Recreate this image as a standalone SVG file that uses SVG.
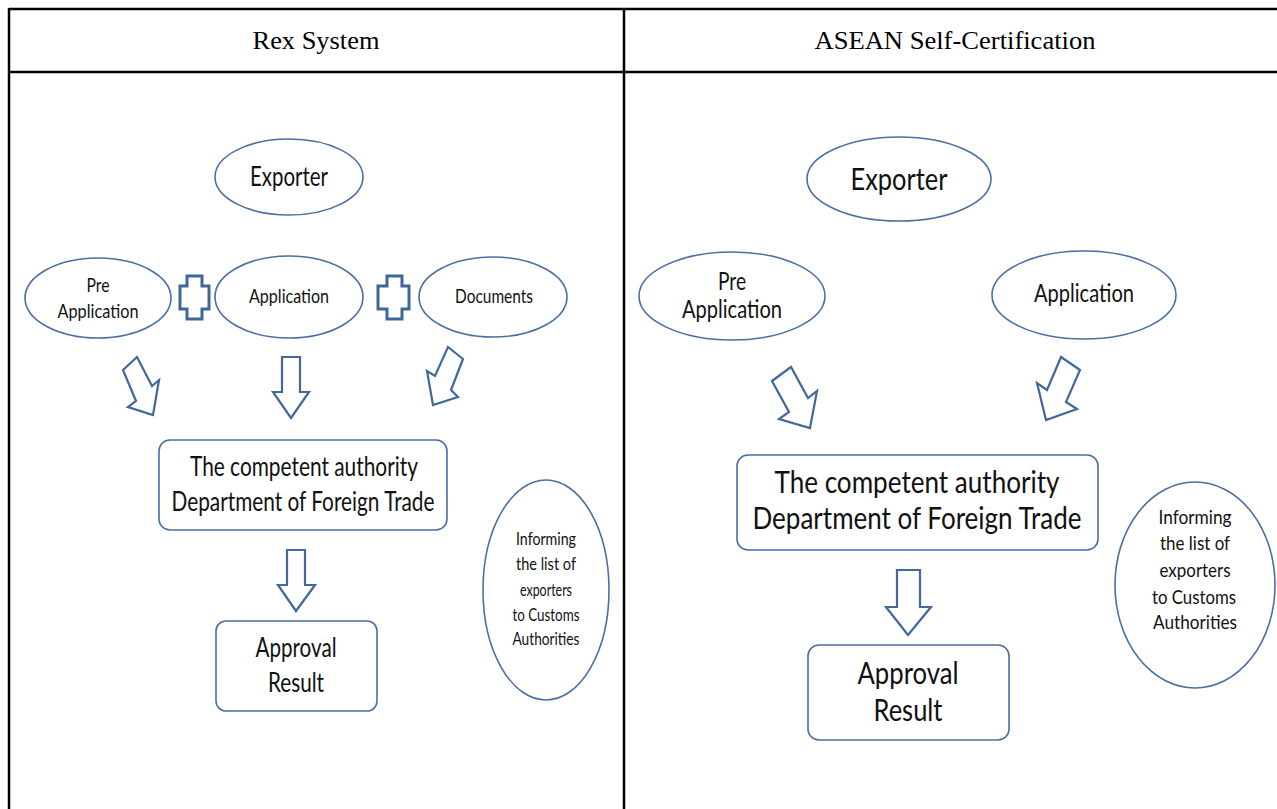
<svg xmlns="http://www.w3.org/2000/svg" width="1277" height="809" viewBox="0 0 1277 809">
<style>
.tbl{stroke:#000;stroke-width:2.5;fill:none}
.hdr{font-family:"Liberation Serif","Times New Roman",serif;font-size:26px;fill:#000;text-anchor:middle}
.node{fill:#fff;stroke:#4a6fa3;stroke-width:1.6}
.arr{fill:#fff;stroke:#42689c;stroke-width:2.2;stroke-linejoin:miter}
.plus{fill:#fff;stroke:#3f6699;stroke-width:3}
.t{font-family:Lato,"Open Sans",sans-serif;fill:#111;text-anchor:middle}
.L1{font-size:27px}.L2{font-size:20px}.L3{font-size:17px}
.R1{font-size:30px}.R2{font-size:25px}.R3{font-size:19px}
</style>
<rect width="1277" height="809" fill="#fff"/>
<g id="table">
<line class="tbl" x1="9" y1="9" x2="1277" y2="9"/>
<line class="tbl" x1="9" y1="72" x2="1277" y2="72"/>
<line class="tbl" x1="9" y1="8" x2="9" y2="809"/>
<line class="tbl" x1="624" y1="8" x2="624" y2="809"/>
<text class="hdr" x="316" y="49" textLength="127" lengthAdjust="spacingAndGlyphs">Rex System</text>
<text class="hdr" x="955" y="49" textLength="281" lengthAdjust="spacingAndGlyphs">ASEAN Self-Certification</text>
</g>
<g id="connectors">
<polygon class="arr" points="123,370 137,357 152,386 159,380 153,415 128,407 136,401"/>
<polygon class="arr" points="282,357 300,357 300,392 309,392 291,418 273,392 282,392"/>
<polygon class="arr" points="448,347 463,359 451,390 458,397 433,405 427,371 435,376"/>
<polygon class="arr" points="287,550 305,550 305,585 315,585 296,611 278,585 287,585"/>
<polygon class="arr" points="772,381 791,367 808,398 817,391 810,428 779,419 789,412"/>
<polygon class="arr" points="1061,357 1080,370 1066,402 1077,409 1046,420 1037,383 1047,390"/>
<polygon class="arr" points="897,570 920,570 920,607 931,607 908,635 886,607 897,607"/>
<polygon class="plus" points="187,276 202,276 202,286 209,286 209,309 202,309 202,319 187,319 187,309 180,309 180,286 187,286"/>
<polygon class="plus" points="387,276 402,276 402,286 409,286 409,309 402,309 402,319 387,319 387,309 378,309 378,286 387,286"/>
</g>
<g id="l-exporter"><ellipse class="node" cx="289" cy="177" rx="74" ry="38"/><text class="t L1" x="289" y="186" textLength="78" lengthAdjust="spacingAndGlyphs">Exporter</text></g>
<g id="l-pre"><ellipse class="node" cx="98" cy="298" rx="73" ry="40"/><text class="t L2" x="98" y="292" textLength="23" lengthAdjust="spacingAndGlyphs">Pre</text><text class="t L2" x="98" y="318" textLength="81" lengthAdjust="spacingAndGlyphs">Application</text></g>
<g id="l-app"><ellipse class="node" cx="289" cy="297" rx="74" ry="41"/><text class="t L2" x="289" y="303" textLength="80" lengthAdjust="spacingAndGlyphs">Application</text></g>
<g id="l-docs"><ellipse class="node" cx="493" cy="297" rx="74" ry="40"/><text class="t L2" x="494" y="303" textLength="78" lengthAdjust="spacingAndGlyphs">Documents</text></g>
<g id="l-authority"><rect class="node" x="159" y="440" width="288" height="90" rx="11"/><text class="t L1" x="304" y="476" textLength="228" lengthAdjust="spacingAndGlyphs">The competent authority</text><text class="t L1" x="303" y="511" textLength="263" lengthAdjust="spacingAndGlyphs">Department of Foreign Trade</text></g>
<g id="l-approval"><rect class="node" x="216" y="621" width="161" height="90" rx="10"/><text class="t L1" x="296" y="657" textLength="81" lengthAdjust="spacingAndGlyphs">Approval</text><text class="t L1" x="296" y="692" textLength="56" lengthAdjust="spacingAndGlyphs">Result</text></g>
<g id="l-inform"><ellipse class="node" cx="546" cy="590" rx="63" ry="110"/>
<text class="t L3" x="546" y="545" textLength="60" lengthAdjust="spacingAndGlyphs">Informing</text>
<text class="t L3" x="546" y="570" textLength="60" lengthAdjust="spacingAndGlyphs">the list of</text>
<text class="t L3" x="546" y="596" textLength="52" lengthAdjust="spacingAndGlyphs">exporters</text>
<text class="t L3" x="546" y="621" textLength="67" lengthAdjust="spacingAndGlyphs">to Customs</text>
<text class="t L3" x="546" y="645" textLength="67" lengthAdjust="spacingAndGlyphs">Authorities</text></g>
<g id="r-exporter"><ellipse class="node" cx="899" cy="179" rx="92" ry="42"/><text class="t R1" x="899" y="190" textLength="97" lengthAdjust="spacingAndGlyphs">Exporter</text></g>
<g id="r-pre"><ellipse class="node" cx="732" cy="296" rx="93" ry="44"/><text class="t R2" x="732" y="290" textLength="28" lengthAdjust="spacingAndGlyphs">Pre</text><text class="t R2" x="732" y="318" textLength="100" lengthAdjust="spacingAndGlyphs">Application</text></g>
<g id="r-app"><ellipse class="node" cx="1084" cy="295" rx="92" ry="44"/><text class="t R2" x="1084" y="302" textLength="100" lengthAdjust="spacingAndGlyphs">Application</text></g>
<g id="r-authority"><rect class="node" x="737" y="455" width="361" height="95" rx="11"/><text class="t R1" x="917" y="493" textLength="285" lengthAdjust="spacingAndGlyphs">The competent authority</text><text class="t R1" x="917" y="529" textLength="329" lengthAdjust="spacingAndGlyphs">Department of Foreign Trade</text></g>
<g id="r-approval"><rect class="node" x="808" y="645" width="201" height="95" rx="11"/><text class="t R1" x="908" y="684" textLength="101" lengthAdjust="spacingAndGlyphs">Approval</text><text class="t R1" x="908" y="721" textLength="69" lengthAdjust="spacingAndGlyphs">Result</text></g>
<g id="r-inform"><ellipse class="node" cx="1195" cy="585" rx="80" ry="103"/>
<text class="t R3" x="1195" y="524" textLength="73" lengthAdjust="spacingAndGlyphs">Informing</text>
<text class="t R3" x="1195" y="550" textLength="70" lengthAdjust="spacingAndGlyphs">the list of</text>
<text class="t R3" x="1195" y="577" textLength="71" lengthAdjust="spacingAndGlyphs">exporters</text>
<text class="t R3" x="1194" y="604" textLength="84" lengthAdjust="spacingAndGlyphs">to Customs</text>
<text class="t R3" x="1195" y="629" textLength="84" lengthAdjust="spacingAndGlyphs">Authorities</text></g>
</svg>
